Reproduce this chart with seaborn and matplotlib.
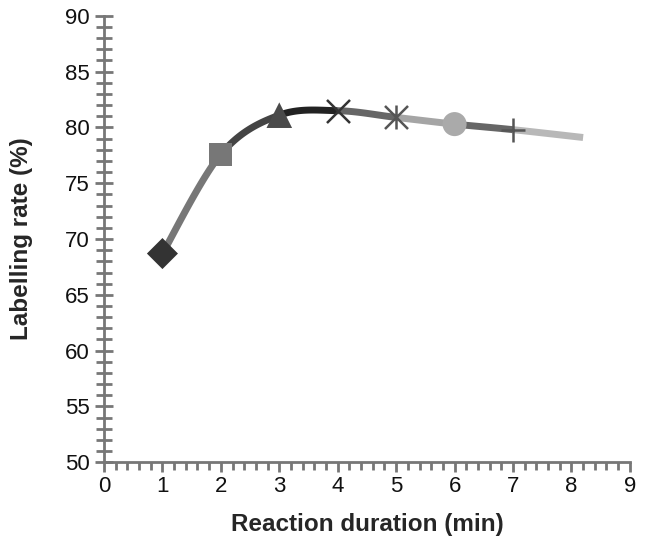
import numpy as np
import matplotlib
matplotlib.use("Agg")
import matplotlib.pyplot as plt
import seaborn as sns
from matplotlib.ticker import MultipleLocator

# данные
duration = [1, 2, 3, 4, 5, 6, 7, 8.2]
rate = [68.7, 77.6, 81.1, 81.5, 80.9, 80.3, 79.8, 79.1]
markers = ["D", "s", "^", "x", "*", "o", "+"]
marker_colors = ["#333333", "#777777", "#4a4a4a", "#333333", "#555555", "#aaaaaa", "#555555"]
marker_sizes = [250, 275, 340, 275, 275, 300, 280]
segment_colors = ["#777777", "#444444", "#222222", "#666666", "#a5a5a5", "#666666", "#b8b8b8"]

sns.set_style("ticks")
plt.rcParams["font.family"] = ["Liberation Sans", "DejaVu Sans"]

fig = plt.figure(figsize=(6.46, 5.47), dpi=100)
ax = fig.add_axes([0.161, 0.155, 0.814, 0.816])


# сглаживание как в Excel (Catmull-Rom)
def smooth_segment(i, n=30):
    x = np.array(duration, dtype=float)
    y = np.array(rate, dtype=float)
    p0 = (x[max(i - 1, 0)], y[max(i - 1, 0)])
    p1 = (x[i], y[i])
    p2 = (x[i + 1], y[i + 1])
    p3 = (x[min(i + 2, len(x) - 1)], y[min(i + 2, len(x) - 1)])
    t = np.linspace(0, 1, n)
    out = []
    for k in range(2):
        a, b, c, d = p0[k], p1[k], p2[k], p3[k]
        out.append(0.5 * ((2 * b) + (-a + c) * t + (2 * a - 5 * b + 4 * c - d) * t ** 2
                          + (-a + 3 * b - 3 * c + d) * t ** 3))
    return out


for i in range(len(duration) - 1):
    sx, sy = smooth_segment(i)
    sns.lineplot(x=sx, y=sy, sort=False, color=segment_colors[i], lw=5,
                 solid_capstyle="butt", ax=ax, zorder=2)

for i in range(len(markers)):
    m = markers[i]
    if m in ("x", "+"):
        ax.scatter([duration[i]], [rate[i]], marker=m, s=marker_sizes[i],
                   color=marker_colors[i], linewidths=1.8, zorder=3)
    elif m == "*":
        # звёздочка как в Excel: крест + вертикальная черта
        ax.scatter([duration[i]], [rate[i]], marker="x", s=marker_sizes[i],
                   color=marker_colors[i], linewidths=1.8, zorder=3)
        ax.scatter([duration[i]], [rate[i]], marker="|", s=marker_sizes[i],
                   color=marker_colors[i], linewidths=1.8, zorder=3)
    else:
        sns.scatterplot(x=[duration[i]], y=[rate[i]], marker=m, s=marker_sizes[i],
                        color=marker_colors[i], edgecolor="none", ax=ax, zorder=3)

ax.set_xlim(0, 9)
ax.set_ylim(50, 90)
ax.xaxis.set_major_locator(MultipleLocator(1))
ax.xaxis.set_minor_locator(MultipleLocator(0.2))
ax.yaxis.set_major_locator(MultipleLocator(5))
ax.yaxis.set_minor_locator(MultipleLocator(1))

sns.despine(ax=ax)
for s in ["left", "bottom"]:
    ax.spines[s].set_color("#777777")
    ax.spines[s].set_linewidth(2)
ax.tick_params(axis="y", which="major", direction="inout", length=13, width=2,
               color="#777777", labelsize=16, labelcolor="#111111", pad=4)
ax.tick_params(axis="y", which="minor", direction="inout", length=11, width=2, color="#777777")
ax.tick_params(axis="x", which="major", direction="out", length=7, width=2,
               color="#777777", labelsize=16, labelcolor="#111111", pad=3)
ax.tick_params(axis="x", which="minor", direction="out", length=5.5, width=2, color="#777777")

ax.set_xlabel("Reaction duration (min)", fontsize=17.5, fontweight="bold", labelpad=11.5)
ax.set_ylabel("Labelling rate (%)", fontsize=17.5, fontweight="bold", labelpad=23)

fig.savefig("out.png", dpi=100)
